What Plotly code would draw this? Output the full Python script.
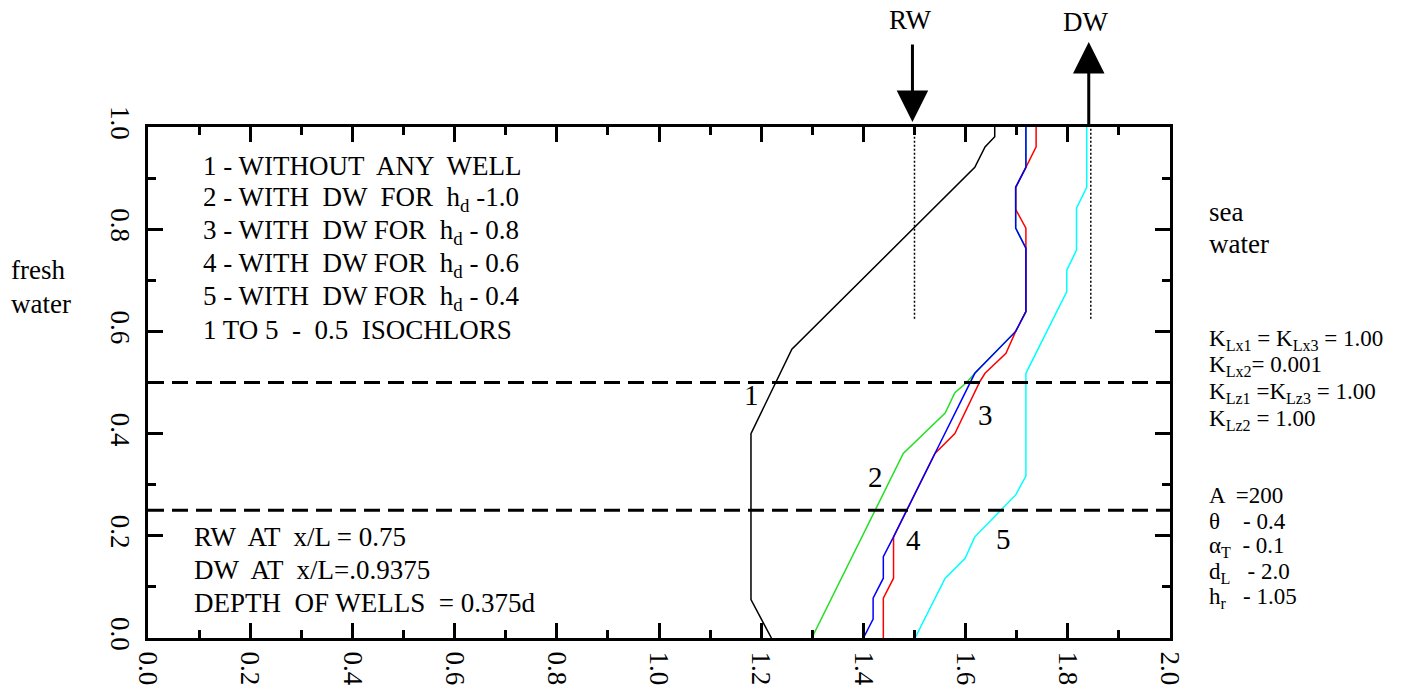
import plotly.graph_objects as go

# ---------------- data ----------------
c1_x = [1.22, 1.18, 1.18, 1.26, 1.618, 1.638, 1.657, 1.657]
c1_y = [0.0, 0.075, 0.40, 0.565, 0.921, 0.961, 0.981, 1.0]

c2_x = [1.299, 1.478, 1.560, 1.579, 1.602, 1.618, 1.698, 1.718, 1.718, 1.698, 1.698, 1.718, 1.718]
c2_y = [0.0, 0.361, 0.440, 0.480, 0.500, 0.518, 0.600, 0.639, 0.763, 0.802, 0.882, 0.921, 1.0]

c3_x = [1.439, 1.439, 1.459, 1.459, 1.540, 1.579, 1.628, 1.638, 1.679, 1.698, 1.718, 1.718, 1.718, 1.698, 1.698, 1.718, 1.738, 1.738]
c3_y = [0.0, 0.078, 0.117, 0.198, 0.361, 0.400, 0.502, 0.518, 0.557, 0.600, 0.639, 0.763, 0.802, 0.839, 0.882, 0.921, 0.961, 1.0]

c4_x = [1.400, 1.419, 1.419, 1.439, 1.439, 1.459, 1.540, 1.612, 1.618, 1.698, 1.718, 1.718, 1.698, 1.698, 1.718, 1.718]
c4_y = [0.0, 0.037, 0.078, 0.117, 0.159, 0.198, 0.361, 0.505, 0.518, 0.600, 0.639, 0.763, 0.802, 0.882, 0.921, 1.0]

c5_x = [1.501, 1.560, 1.599, 1.618, 1.698, 1.718, 1.718, 1.798, 1.798, 1.817, 1.817, 1.837, 1.837]
c5_y = [0.0, 0.117, 0.156, 0.198, 0.280, 0.317, 0.518, 0.678, 0.720, 0.759, 0.841, 0.882, 1.0]

curve_labels = ["1", "2", "3", "4", "5"]
curve_label_x = [1.181, 1.423, 1.638, 1.498, 1.674]
curve_label_y = [0.476, 0.316, 0.436, 0.192, 0.193]

isochlor_levels = [0.5, 0.25]          # dashed horizontal lines
well_x = [1.5, 1.845]                  # RW, DW dotted verticals
well_bottom = 0.625                    # 1 - 0.375 (depth of wells)
well_names = ["RW", "DW"]

legend_lines = [
    "1 - WITHOUT  ANY  WELL",
    "2 - WITH  DW  FOR  h<sub>d</sub> -1.0",
    "3 - WITH  DW FOR  h<sub>d</sub> - 0.8",
    "4 - WITH  DW FOR  h<sub>d</sub> - 0.6",
    "5 - WITH  DW FOR  h<sub>d</sub> - 0.4",
    "1 TO 5  -  0.5  ISOCHLORS",
]
well_lines = [
    "RW  AT  x/L = 0.75",
    "DW  AT  x/L=.0.9375",
    "DEPTH  OF WELLS  = 0.375d",
]
param_lines = [
    "K<sub>Lx1</sub> = K<sub>Lx3</sub> = 1.00",
    "K<sub>Lx2</sub>= 0.001",
    "K<sub>Lz1</sub> =K<sub>Lz3</sub> = 1.00",
    "K<sub>Lz2</sub> = 1.00",
    "A  =200",
    "θ    - 0.4",
    "α<sub>T</sub>  - 0.1",
    "d<sub>L</sub>   - 2.0",
    "h<sub>r</sub>   - 1.05",
]

# ---------------- layout helpers ----------------
W, H = 1426, 690
L, R, T, B = 148, 1170, 127, 638
XMAX = 2.0

def px(x):
    return (x - L) / (R - L)

def py(y):
    return (B - y) / (B - T)

FONT = "Liberation Serif, Times New Roman, serif"

fig = go.Figure()
series = [
    (c1_x, c1_y, "black"),
    (c2_x, c2_y, "#22e022"),
    (c3_x, c3_y, "#ff0000"),
    (c4_x, c4_y, "#0000ff"),
    (c5_x, c5_y, "#00ffff"),
]
for xs, ys, col in series:
    fig.add_trace(go.Scatter(x=xs, y=ys, mode="lines",
                             line=dict(color=col, width=1.5),
                             showlegend=False, hoverinfo="skip"))

shapes = []
for lv in isochlor_levels:
    shapes.append(dict(type="line", xref="x", yref="y", x0=0, x1=XMAX, y0=lv, y1=lv,
                       line=dict(color="black", width=3, dash="16px,8px")))
for wx in well_x:
    shapes.append(dict(type="line", xref="x", yref="y", x0=wx, x1=wx, y0=well_bottom, y1=1.0,
                       line=dict(color="black", width=1.5, dash="2px,2px")))

ann = []
for t, x, y in zip(curve_labels, curve_label_x, curve_label_y):
    ann.append(dict(text=t, x=x, y=y, xref="x", yref="y", showarrow=False,
                    xanchor="center", yanchor="middle",
                    font=dict(family=FONT, size=29, color="black")))

legend_y = [166, 199, 232, 265, 298, 330]
for t, yy in zip(legend_lines, legend_y):
    ann.append(dict(text=t, x=px(201), y=py(yy), xref="paper", yref="paper",
                    xanchor="left", yanchor="middle", showarrow=False,
                    font=dict(family=FONT, size=27, color="black")))

wl_y = [537, 570, 603]
for t, yy in zip(well_lines, wl_y):
    ann.append(dict(text=t, x=px(192), y=py(yy), xref="paper", yref="paper",
                    xanchor="left", yanchor="middle", showarrow=False,
                    font=dict(family=FONT, size=27, color="black")))

pl_y = [340, 366, 393, 420, 495, 521, 547, 573, 598]
for t, yy in zip(param_lines, pl_y):
    ann.append(dict(text=t, x=px(1207), y=py(yy), xref="paper", yref="paper",
                    xanchor="left", yanchor="middle", showarrow=False,
                    font=dict(family=FONT, size=23, color="black")))

for t, xx, yy in [("fresh", 9, 270), ("water", 9, 304), ("sea", 1207, 212), ("water", 1207, 244)]:
    ann.append(dict(text=t, x=px(xx), y=py(yy), xref="paper", yref="paper",
                    xanchor="left", yanchor="middle", showarrow=False,
                    font=dict(family=FONT, size=27, color="black")))

# well arrows: RW points down into the aquifer, DW points up
ann.append(dict(text="", x=well_x[0] / XMAX - 0.002, y=py(122), xref="paper", yref="paper",
                showarrow=True, ax=0, ay=-79, arrowhead=2, arrowsize=2.1,
                arrowwidth=3, arrowcolor="black"))
ann.append(dict(text="", x=well_x[1] / XMAX - 0.002, y=py(42), xref="paper", yref="paper",
                showarrow=True, ax=0, ay=85, arrowhead=2, arrowsize=2.1,
                arrowwidth=3, arrowcolor="black"))
ann.append(dict(text=well_names[0], x=px(910), y=py(20),
                xref="paper", yref="paper", showarrow=False,
                xanchor="center", yanchor="middle",
                font=dict(family=FONT, size=27, color="black")))
ann.append(dict(text=well_names[1], x=px(1085), y=py(22),
                xref="paper", yref="paper", showarrow=False,
                xanchor="center", yanchor="middle",
                font=dict(family=FONT, size=27, color="black")))

axis_common = dict(
    showline=True, linewidth=3, linecolor="black", mirror="ticks",
    ticks="inside", ticklen=15, tickwidth=3, tickcolor="black",
    showgrid=False, zeroline=False, tickformat=".1f", tickangle=90,
    automargin=False,
    tickfont=dict(family=FONT, size=27, color="black"),
    minor=dict(ticks="inside", ticklen=8, tickwidth=3, tickcolor="black", dtick=0.1,
               showgrid=False),
)

fig.update_layout(
    width=W, height=H,
    margin=dict(l=L, r=W - R, t=T, b=H - B, autoexpand=False),
    paper_bgcolor="white", plot_bgcolor="white",
    shapes=shapes, annotations=ann, showlegend=False,
    xaxis=dict(range=[0, XMAX], dtick=0.2, tick0=0, ticklabelstandoff=5, **axis_common),
    yaxis=dict(range=[0, 1], dtick=0.2, tick0=0, ticklabelstandoff=2, **axis_common),
)

fig.write_html("out.html",
               config={"displayModeBar": False},
               post_script="document.body.style.margin='0';document.body.style.overflow='hidden';")
